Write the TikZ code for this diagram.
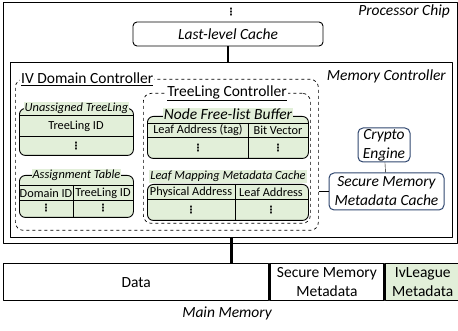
\documentclass[tikz,border=0pt]{standalone}
\usepackage{fontspec}
\setmainfont{Carlito}
\newfontfamily\dotsfont{DejaVu Sans}
\usetikzlibrary{positioning}
\definecolor{tblgreen}{RGB}{226,239,217}
\definecolor{engblue}{RGB}{47,70,110}

\tikzstyle{outer} = [draw=black,line width=1.3pt,inner sep=0pt]
\tikzstyle{lbl} = [inner sep=1pt,font=\fontsize{15.5}{18}\selectfont\itshape]
\tikzstyle{llcbox} = [draw=black,line width=0.9pt,rounded corners=4pt,font=\fontsize{15.5}{18}\selectfont\itshape]
\tikzstyle{grp} = [draw=black,dashed,line width=0.7pt,rounded corners=8pt,inner sep=0pt]
\tikzstyle{grplbl} = [fill=white,inner sep=1pt,font=\fontsize{15.5}{18}\selectfont]
\tikzstyle{tbl} = [draw=black,fill=tblgreen,line width=0.9pt,rounded corners=6pt,inner sep=0pt]
\tikzstyle{ttl} = [fill=tblgreen,inner sep=1pt,font=\fontsize{12.4}{14}\selectfont\itshape]
\tikzstyle{ttlbig} = [fill=tblgreen,inner sep=1pt,font=\fontsize{15.5}{17}\selectfont\itshape]
\tikzstyle{cell} = [inner sep=0pt,font=\fontsize{12.3}{14}\selectfont]
\tikzstyle{vdot} = [inner sep=0pt,font=\fontsize{10}{10}\selectfont\dotsfont\bfseries]
\tikzstyle{eng} = [draw=engblue,line width=1pt,rounded corners=5pt,align=center,inner sep=0pt,font=\fontsize{15.5}{19}\selectfont\itshape]
\tikzstyle{memcell} = [draw=black,line width=1.3pt,align=center,inner sep=0pt,font=\fontsize{15.5}{19}\selectfont]
\tikzstyle{thicklink} = [line width=2.6pt]

\begin{document}
\begin{tikzpicture}[x=1pt,y=-1pt,line join=round]
\useasboundingbox (0,0) rectangle (458,331);
% processor chip
\node (chip) [outer,minimum width=454pt,minimum height=241pt,anchor=north west] at (3,2) {};
\node (chiplbl) [lbl,anchor=east] at (451,11) {Processor Chip};
\node (topdots) [vdot] at (231,12) {⋮};
\node (llc) [llcbox,minimum width=190pt,minimum height=24pt] at (228,34) {Last-level Cache};
% memory controller
\node (mc) [outer,minimum width=442pt,minimum height=175pt,anchor=north west] at (10,62) {};
\node (mclbl) [lbl,anchor=east] at (447,76) {Memory Controller};
\draw [thicklink] (llc.south) -- (llc.south |- mc.north);

% IV domain controller
\node (ivd) [grp,minimum width=303pt,minimum height=151pt,anchor=north west] at (15,79) {};
\node (ivdlbl) [grplbl,anchor=west] at (20,79) {\underline{IV Domain Controller}};
\node (tlc) [grp,minimum width=167pt,minimum height=130pt,anchor=north west] at (143,93) {};
\node (tlclbl) [grplbl] at (227,93) {\underline{TreeLing Controller}};

% unassigned treelings
\node (ut) [tbl,minimum width=114pt,minimum height=47pt,anchor=north west] at (19,108) {};
\node (utttl) [ttl] at (ut.north) {Unassigned TreeLing};
\draw (ut.west |- 0,115) -- (ut.east |- 0,115);
\draw (ut.west |- 0,136) -- (ut.east |- 0,136);
\node (utid) [cell] at (76,126) {TreeLing ID};
\node (utdots) [vdot] at (76,146) {⋮};

% assignment table
\node (at) [tbl,minimum width=114pt,minimum height=42pt,anchor=north west] at (19,175) {};
\node (atttl) [ttl] at (at.north) {Assignment Table};
\draw (at.west |- 0,185) -- (at.east |- 0,185);
\draw (at.west |- 0,200) -- (at.east |- 0,200);
\draw (73,185) -- (73,0 |- at.south);
\node (atdom) [cell] at (46,193) {Domain ID};
\node (attl) [cell] at (103,193) {TreeLing ID};
\node (atdots1) [vdot] at (46,208) {⋮};
\node (atdots2) [vdot] at (103,208) {⋮};

% node free-list buffer
\node (nfb) [tbl,minimum width=161pt,minimum height=42pt,anchor=north west] at (147,116) {};
\node (nfbttl) [ttlbig,yshift=2pt] at (nfb.north) {Node Free-list Buffer};
\draw (nfb.west |- 0,123) -- (nfb.east |- 0,123);
\draw (nfb.west |- 0,137) -- (nfb.east |- 0,137);
\draw (248,123) -- (248,0 |- nfb.south);
\node (nfbleaf) [cell] at (198,130) {Leaf Address (tag)};
\node (nfbbit) [cell] at (278,130) {Bit Vector};
\node (nfbdots1) [vdot] at (198,148) {⋮};
\node (nfbdots2) [vdot] at (278,148) {⋮};

% leaf mapping metadata cache
\node (lmc) [tbl,minimum width=161pt,minimum height=36pt,anchor=north west] at (147,184) {};
\node (lmcttl) [ttl,anchor=south] at ([yshift=1pt]lmc.north) {Leaf Mapping Metadata Cache};
\draw (lmc.west |- 0,199) -- (lmc.east |- 0,199);
\draw (235,184) -- (235,0 |- lmc.south);
\node (lmcphys) [cell] at (191,192) {Physical Address};
\node (lmcleaf) [cell] at (271,192) {Leaf Address};
\node (lmcdots1) [vdot] at (191,210) {⋮};
\node (lmcdots2) [vdot] at (271,210) {⋮};

% crypto
\node (ce) [eng,minimum width=52pt,minimum height=34pt] at (384,145) {Crypto\\Engine};
\node (smmc) [eng,minimum width=115pt,minimum height=37pt] at (386.5,191.5) {Secure Memory\\Metadata Cache};
\draw (ce) -- (smmc);
\draw (smmc.west) -- (smmc.west -| ivd.east);

% main memory
\node (data) [memcell,minimum width=265pt,minimum height=37pt,anchor=north west] at (3,263) {Data};
\node (smm) [memcell,minimum width=114pt,minimum height=37pt,right=0pt of data] {Secure Memory\\Metadata};
\node (ivl) [memcell,fill=tblgreen,minimum width=75pt,minimum height=37pt,right=0pt of smm] {IvLeague\\Metadata};
\node (mmlbl) [lbl] at (227,313) {Main Memory};
\draw [thicklink] (mc.south) -- (mc.south |- data.north);
\end{tikzpicture}
\end{document}
